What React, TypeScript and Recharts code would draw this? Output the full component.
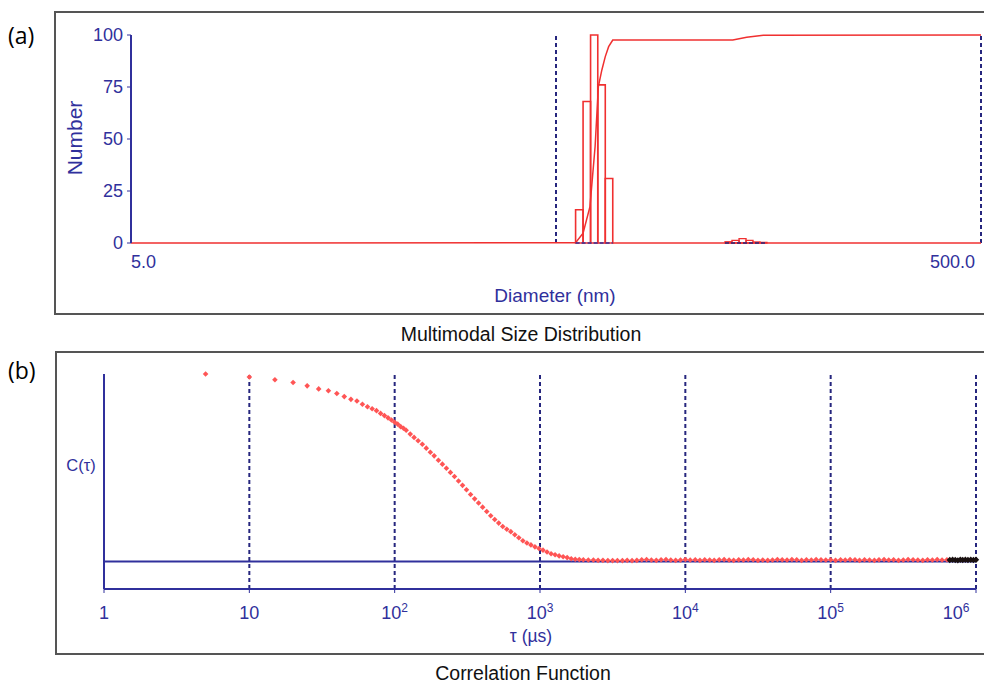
import React from "react"
import {
	ComposedChart,
	ScatterChart,
	Line,
	Scatter,
	XAxis,
	YAxis,
	ReferenceArea,
	ReferenceLine,
} from "recharts"

// panel (a): multimodal size distribution
const binEdges = [55.6, 57.9, 60.3, 62.7, 65.3, 68.0]
const binCounts = [16, 68, 100, 76, 31]
const smallEdges = [124.9, 129.7, 134.8, 140.0, 145.4, 151.0, 156.8]
const smallCounts = [0.6, 1.3, 2.1, 1.3, 0.5, 0.3]
const cumDiameter = [5, 55.6, 57.9, 60.1, 61.8, 62.9, 64.1, 65.3, 66.5, 68.0, 130.3, 140.5, 153.7, 500]
const cumPercent = [0, 0.1, 4.7, 17.5, 46.4, 75.2, 83.2, 89.6, 94.4, 97.6, 97.6, 98.9, 99.9, 100]
const sizeTicks = [5, 500]
const countTicks = [0, 25, 50, 75, 100]
const sizeGuides = [50, 500]

// panel (b): correlation function
const tauLin = [5, 10, 15, 20, 25, 30, 35, 40, 45, 50, 55, 60, 65, 70, 75, 80, 85, 90, 95, 100, 105, 110, 115]
const cLin = [1.68, 1.669, 1.659, 1.649, 1.637, 1.626, 1.619, 1.609, 1.598, 1.588, 1.582, 1.57, 1.561, 1.554, 1.547, 1.537, 1.529, 1.521, 1.513, 1.505, 1.498, 1.489, 1.483]
const tauDecay = [120, 128, 136, 145, 155, 165, 176, 187, 200, 213, 227, 242, 258, 275, 293, 312, 333, 355, 378, 403, 430, 458, 488, 520, 554, 591, 630, 671, 715, 762, 813, 866, 923, 984, 1049, 1118, 1192, 1270, 1354, 1443, 1538, 1640, 1748, 1863, 1986]
const cDecay = [1.476, 1.462, 1.45, 1.438, 1.425, 1.411, 1.396, 1.383, 1.367, 1.353, 1.338, 1.323, 1.308, 1.292, 1.276, 1.26, 1.243, 1.227, 1.212, 1.197, 1.181, 1.166, 1.152, 1.139, 1.127, 1.117, 1.108, 1.097, 1.086, 1.075, 1.067, 1.06, 1.053, 1.047, 1.041, 1.034, 1.028, 1.024, 1.02, 1.017, 1.014, 1.01, 1.008, 1.007, 1.006]
const tauFlat = [
	2150, 2330, 2510, 2710, 2930, 3160, 3410, 3690, 3980, 4300, 4640, 5010, 5410, 5840, 6310, 6810, 7360, 7940, 8580, 9260,
	10000, 10800, 11700, 12600, 13600, 14700, 15800, 17100, 18500, 20000, 21500, 23300, 25100, 27100, 29300, 31600, 34100, 36900, 39800, 43000, 46400, 50100, 54100, 58400, 63100, 68100, 73600, 79400, 85800, 92600,
	100000, 108000, 117000, 126000, 136000, 147000, 158000, 171000, 185000, 200000, 215000, 233000, 251000, 271000, 293000, 316000, 341000, 369000, 398000, 430000, 464000, 501000, 541000, 584000, 631000,
]
const cFlat = [
	1.005, 1.005, 1.004, 1.004, 1.003, 1.003, 1.003, 1.003, 1.004, 1.003, 1.004, 1.006, 1.007, 1.005, 1.004, 1.006, 1.007, 1.005, 1.004, 1.005,
	1.007, 1.005, 1.006, 1.004, 1.006, 1.005, 1.004, 1.006, 1.007, 1.005, 1.004, 1.006, 1.005, 1.007, 1.006, 1.004, 1.005, 1.004, 1.005, 1.007, 1.006, 1.005, 1.007, 1.006, 1.004, 1.006, 1.005, 1.007, 1.006, 1.005,
	1.006, 1.004, 1.006, 1.005, 1.007, 1.006, 1.004, 1.006, 1.005, 1.004, 1.006, 1.007, 1.005, 1.006, 1.004, 1.005, 1.007, 1.006, 1.005, 1.004, 1.006, 1.005, 1.007, 1.005, 1.006,
]
const tauTail = [660000, 690000, 720000, 750000, 780000, 810000, 845000, 880000, 920000, 960000, 1000000]
const cTail = [1.005, 1.006, 1.005, 1.004, 1.006, 1.005, 1.006, 1.005, 1.006, 1.005, 1.006]
const tauTicks = [1, 10, 100, 1000, 10000, 100000, 1000000]
const tauGuides = [10, 100, 1000, 10000, 100000, 1000000]
const baselineC = 1.0

const BLUE = "#30309c"
const NAVY = "#26267e"
const RED = "#f03030"
const FONT = "'Liberation Sans', Arial, sans-serif"

const cumData = cumDiameter.map((d, i) => ({ d, v: cumPercent[i] }))
const zeroLine = [{ d: binEdges[binEdges.length - 1], v: 0 }, { d: 500, v: 0 }]
const baseMain = [{ d: binEdges[0], v: 0 }, { d: binEdges[binEdges.length - 1], v: 0 }]
const baseSmall = [{ d: smallEdges[0], v: 0 }, { d: smallEdges[smallEdges.length - 1], v: 0 }]

const redPoints = [...tauLin, ...tauDecay, ...tauFlat].map((tau, i) => ({
	tau,
	c: [...cLin, ...cDecay, ...cFlat][i],
}))
const tailPoints = tauTail.map((tau, i) => ({ tau, c: cTail[i] }))

function Diamond(props: any) {
	const { cx, cy, fill, r = 2.8 } = props
	if (cx == null || cy == null) return null
	return <path d={`M${cx},${cy - r}L${cx + r},${cy}L${cx},${cy + r}L${cx - r},${cy}Z`} fill={fill} />
}

function SizeTick(props: any) {
	const { x, y, payload } = props
	const first = payload.value === sizeTicks[0]
	return (
		<text x={first ? x : x + 3} y={y + 10} dy="0.71em" textAnchor={first ? "start" : "end"} fill={BLUE} fontSize={18} fontFamily={FONT}>
			{payload.value.toFixed(1)}
		</text>
	)
}

function TauTick(props: any) {
	const { x, y, payload } = props
	const e = Math.round(Math.log10(payload.value))
	const common = { x, y: y + 11, dy: "0.71em", textAnchor: "middle" as const, fill: BLUE, fontSize: 18, fontFamily: FONT }
	if (e === 0) return <text {...common}>1</text>
	if (e === 1) return <text {...common}>10</text>
	return (
		<text {...common}>
			10
			<tspan dy={-7} fontSize={12}>{e}</tspan>
		</text>
	)
}

const abs = (left: number, top: number, extra: React.CSSProperties = {}): React.CSSProperties => ({
	position: "absolute",
	left,
	top,
	fontFamily: FONT,
	whiteSpace: "nowrap",
	...extra,
})

export default function App() {
	return (
		<div style={{ position: "absolute", left: 0, top: 0, width: 984, height: 683, overflow: "hidden", background: "#fff" }}>
			{/* frames */}
			<div style={abs(54, 11, { width: 960, height: 300, border: "2px solid #555" })} />
			<div style={abs(55, 351, { width: 960, height: 300, border: "2px solid #555" })} />

			<div style={abs(8, 19, { fontSize: 23, color: "#000", fontFamily: "'Open Sans', sans-serif" })}>(a)</div>
			<div style={abs(8, 354, { fontSize: 23, color: "#000", fontFamily: "'Open Sans', sans-serif" })}>(b)</div>

			{/* panel a */}
			<div style={abs(0, 0)}>
				<ComposedChart width={984} height={300} margin={{ top: 35, right: 3, left: 0, bottom: 32 }}>
					<XAxis
						type="number"
						dataKey="d"
						scale="log"
						domain={[5, 500]}
						ticks={sizeTicks}
						allowDataOverflow
						axisLine={false}
						tickLine={false}
						tickSize={0}
						height={25}
						tick={<SizeTick />}
					/>
					<YAxis
						type="number"
						dataKey="v"
						domain={[0, 100]}
						ticks={countTicks}
						width={131}
						axisLine={{ stroke: BLUE, strokeWidth: 2 }}
						tickLine={{ stroke: BLUE }}
						tickSize={4}
						tickMargin={4}
						tick={{ fill: BLUE, fontSize: 18, fontFamily: FONT }}
					/>
					{sizeGuides.map((g) => (
						<ReferenceLine key={g} x={g} stroke={NAVY} strokeWidth={2} strokeDasharray="4 3" />
					))}
					{binCounts.map((h, i) => (
						<ReferenceArea key={"b" + i} x1={binEdges[i]} x2={binEdges[i + 1]} y1={0} y2={h} fill="none" fillOpacity={0} stroke={RED} strokeWidth={1.6} ifOverflow="visible" />
					))}
					{smallCounts.map((h, i) => (
						<ReferenceArea key={"s" + i} x1={smallEdges[i]} x2={smallEdges[i + 1]} y1={0} y2={h} fill="none" fillOpacity={0} stroke={RED} strokeWidth={1.3} ifOverflow="visible" />
					))}
					<Line data={zeroLine} dataKey="v" stroke={RED} strokeWidth={1.6} dot={false} isAnimationActive={false} />
					<Line data={cumData} dataKey="v" stroke={RED} strokeWidth={1.5} dot={false} isAnimationActive={false} />
					<Line data={baseMain} dataKey="v" stroke={BLUE} strokeWidth={1.6} strokeDasharray="4 2" dot={false} isAnimationActive={false} />
					<Line data={baseSmall} dataKey="v" stroke={NAVY} strokeWidth={1.6} strokeDasharray="4 2" dot={false} isAnimationActive={false} />
				</ComposedChart>
			</div>

			<div style={abs(75, 138, { transform: "translate(-50%, -50%) rotate(-90deg)", fontSize: 21, color: BLUE })}>Number</div>
			<div style={abs(555, 296, { transform: "translate(-50%, -50%)", fontSize: 19, color: BLUE })}>Diameter (nm)</div>
			<div style={abs(521, 334, { transform: "translate(-50%, -50%)", fontSize: 19.5, color: "#111" })}>Multimodal Size Distribution</div>

			{/* panel b */}
			<div style={abs(0, 340)}>
				<ScatterChart width={984} height={300} margin={{ top: 34, right: 8, left: 0, bottom: 21 }}>
					<XAxis
						type="number"
						dataKey="tau"
						scale="log"
						domain={[1, 1000000]}
						ticks={tauTicks}
						height={30}
						axisLine={{ stroke: BLUE, strokeWidth: 2 }}
						tickLine={{ stroke: BLUE }}
						tickSize={4}
						tick={<TauTick />}
					/>
					<YAxis
						type="number"
						dataKey="c"
						domain={[0.9, 1.68]}
						width={104}
						axisLine={{ stroke: BLUE, strokeWidth: 2 }}
						tickLine={false}
						tick={false}
					/>
					{tauGuides.map((g) => (
						<ReferenceLine key={g} x={g} stroke={NAVY} strokeWidth={2} strokeDasharray="4 3" />
					))}
					<ReferenceLine y={baselineC} stroke={BLUE} strokeWidth={2} />
					<Scatter data={redPoints} fill="#ff5555" fillOpacity={0.85} shape={<Diamond />} isAnimationActive={false} />
					<Scatter data={tailPoints} fill="#1a1010" shape={<Diamond r={3.2} />} isAnimationActive={false} />
				</ScatterChart>
			</div>

			<div style={abs(81, 465, { transform: "translate(-50%, -50%)", fontSize: 16.5, color: BLUE })}>C(τ)</div>
			<div style={abs(531, 636, { transform: "translate(-50%, -50%)", fontSize: 17.5, color: BLUE })}>τ (µs)</div>
			<div style={abs(523, 673, { transform: "translate(-50%, -50%)", fontSize: 19.5, color: "#111" })}>Correlation Function</div>
		</div>
	)
}
